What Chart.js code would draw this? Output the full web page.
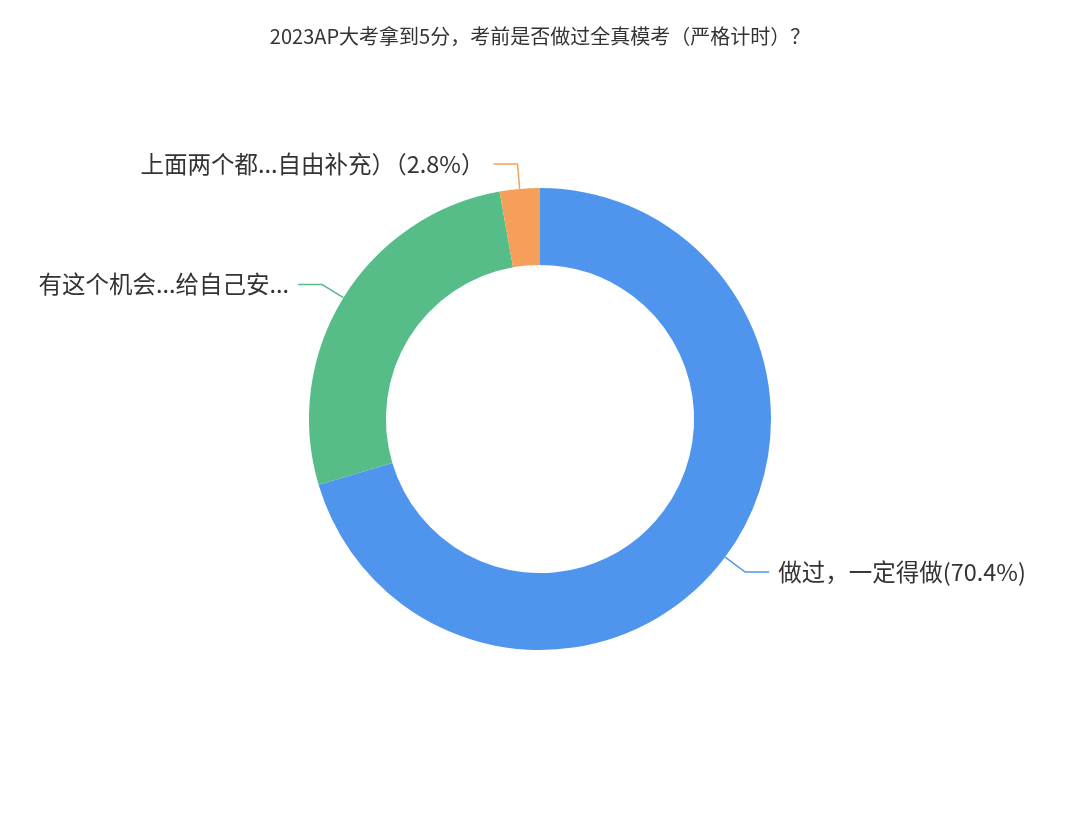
<!DOCTYPE html>
<html>
<head>
<meta charset="utf-8">
<script src="https://cdn.jsdelivr.net/npm/chart.js@4"></script>
<style>
	html, body { margin: 0; padding: 0; background: #ffffff; }
	#wrap { width: 1080px; height: 822px; }
</style>
</head>
<body>
<div id="wrap"><canvas id="donut"></canvas></div>
<script>
const chart_title = '2023AP大考拿到5分，考前是否做过全真模考（严格计时）？';
const categories = ['做过，一定得做', '有这个机会...给自己安...', '上面两个都...自由补充）'];
const percents = [70.4, 26.8, 2.8];
// text shown beside each slice (the middle one is cut off in the original, no percent)
const slice_labels = ['做过，一定得做(70.4%)', '有这个机会...给自己安...', '上面两个都...自由补充）（2.8%）'];
const slice_colors = ['#4f95ee', '#56bd89', '#f59f5b'];

const FONT = '"Noto Sans CJK SC", "Noto Sans", sans-serif';

// leader lines + labels, placed from the arc geometry
const leaderLabels = {
	id: 'leaderLabels',
	afterDatasetsDraw(chart) {
		const ctx = chart.ctx;
		const meta = chart.getDatasetMeta(0);
		ctx.save();
		ctx.font = '23.5px ' + FONT;
		ctx.textBaseline = 'middle';
		meta.data.forEach((arc, i) => {
			const mid = (arc.startAngle + arc.endAngle) / 2;
			const r = arc.outerRadius;
			const x0 = arc.x + Math.cos(mid) * r;
			const y0 = arc.y + Math.sin(mid) * r;
			const x1 = arc.x + Math.cos(mid) * (r + 25);
			const y1 = arc.y + Math.sin(mid) * (r + 25);
			const right = Math.cos(mid) >= 0;
			const x2 = x1 + (right ? 24 : -24);
			ctx.strokeStyle = slice_colors[i];
			ctx.lineWidth = 1.5;
			ctx.beginPath();
			ctx.moveTo(x0, y0);
			ctx.lineTo(x1, y1);
			ctx.lineTo(x2, y1);
			ctx.stroke();
			ctx.fillStyle = '#333333';
			ctx.textAlign = right ? 'left' : 'right';
			ctx.fillText(slice_labels[i], x2 + (right ? 9 : -9), y1);
		});
		ctx.restore();
	}
};

const config_donut = {
	type: 'doughnut',
	data: {
		labels: categories,
		datasets: [
			{
				data: percents,
				backgroundColor: slice_colors,
				hoverBackgroundColor: slice_colors,
				borderWidth: 0,
			},
		],
	},
	options: {
		responsive: true,
		maintainAspectRatio: false,
		animation: false,
		cutout: '66.7%',
		layout: {
			padding: { top: 0, bottom: 172, left: 0, right: 0 },
		},
		plugins: {
			legend: { display: false },
			tooltip: { enabled: false },
			title: {
				display: true,
				text: chart_title,
				color: '#333333',
				font: { family: FONT, size: 20, weight: 'normal', lineHeight: 1.2 },
				padding: { top: 24, bottom: 140 },
			},
		},
	},
	plugins: [leaderLabels],
};

const myDonut = new Chart(document.getElementById('donut'), config_donut);
</script>
</body>
</html>
